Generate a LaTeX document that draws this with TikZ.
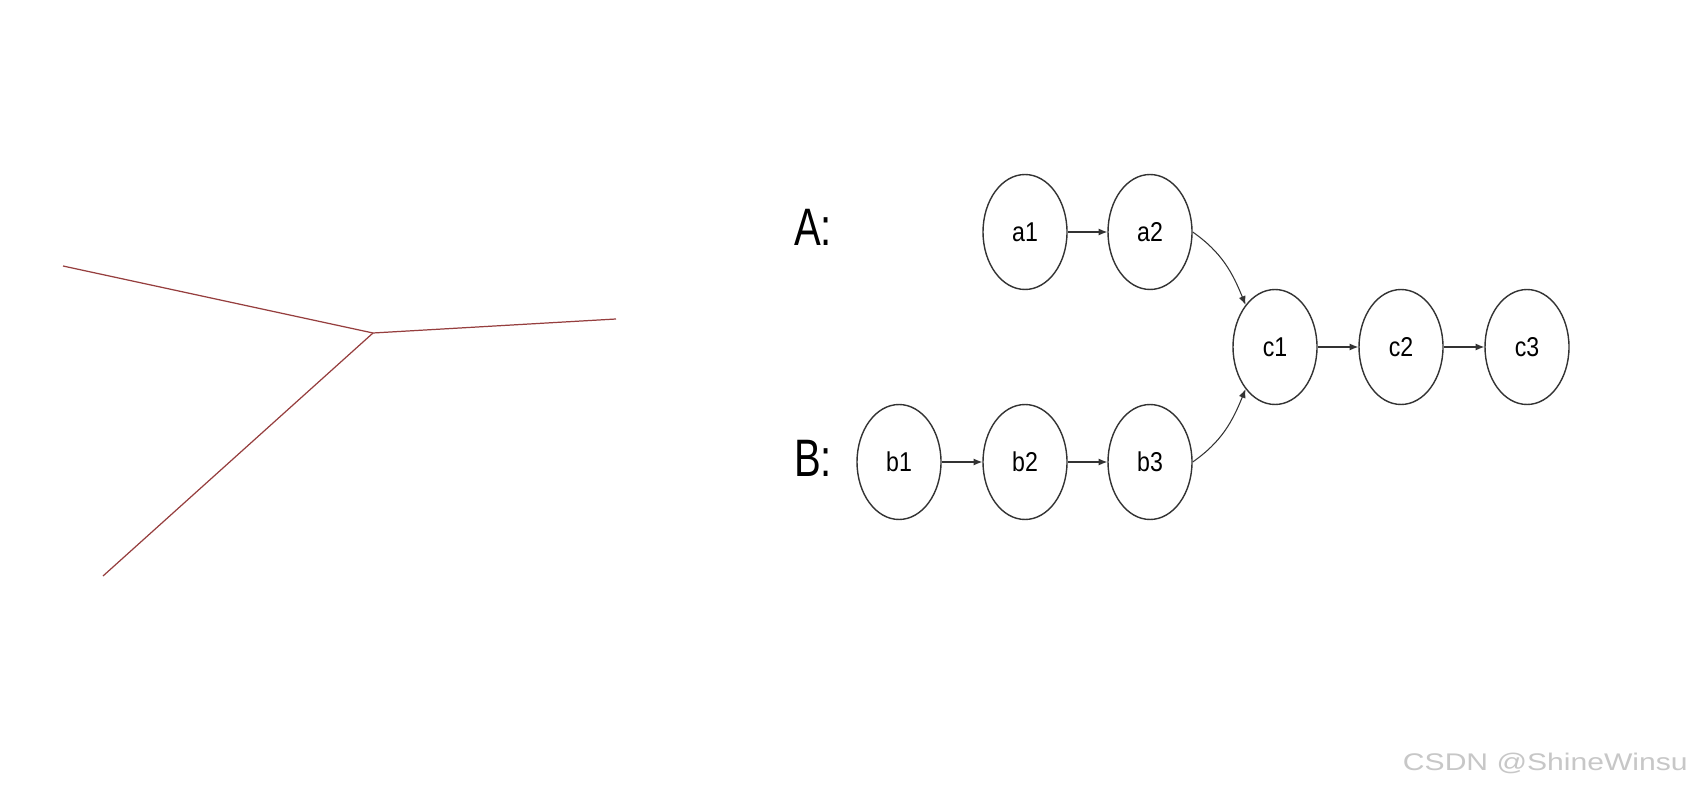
\documentclass[tikz,border=0pt]{standalone}
\usepackage{fontspec}
\setmainfont{Liberation Sans}
\newfontfamily\nodefont[FakeStretch=0.85]{Liberation Sans}
\newfontfamily\seqfont[FakeStretch=0.76]{Liberation Sans}
\newfontfamily\markfont[FakeStretch=1.25]{Liberation Sans}
\usetikzlibrary{shapes.geometric,arrows.meta}
\definecolor{edgered}{RGB}{150,62,62}
\begin{document}
\begin{tikzpicture}[
    x=0.02cm,y=0.02cm,
    every node/.style={font=\nodefont},
    state/.style={ellipse, draw=black!80, line width=0.8pt, minimum width=1.68cm, minimum height=2.3cm, inner sep=0pt, font=\nodefont\fontsize{15.5}{18}\selectfont},
    link/.style={draw=black!80, line width=0.6pt, -{Latex[length=5pt,width=4pt]}},
    seqlabel/.style={font=\seqfont\fontsize{30}{34}\selectfont},
    edgeline/.style={draw=edgered, line width=0.7pt}
]
    \fill[white] (0,0) rectangle (1696,795);
    \useasboundingbox (0,0) rectangle (1696,795);

    % tree on the left
    \coordinate (joint) at (373,462);
    \coordinate (left) at (63,529);
    \coordinate (right) at (616,476);
    \coordinate (down) at (103,219);
    \draw[edgeline] (left) -- (joint) -- (right);
    \draw[edgeline] (joint) -- (down);

    % sequences
    \node[seqlabel] (labA) at (813,568) {A:};
    \node[seqlabel] (labB) at (813,337) {B:};

    \foreach \x/\lab in {1025/a1,1150/a2} {
        \node[state] (\lab) at (\x,563) {\lab};
    }
    \foreach \x/\lab in {899/b1,1025/b2,1150/b3} {
        \node[state] (\lab) at (\x,333) {\lab};
    }
    \foreach \x/\lab in {1275/c1,1401/c2,1527/c3} {
        \node[state] (\lab) at (\x,448) {\lab};
    }

    \draw[link] (a1) -- (a2);
    \draw[link] (b1) -- (b2);
    \draw[link] (b2) -- (b3);
    \draw[link] (c1) -- (c2);
    \draw[link] (c2) -- (c3);
    \draw[link] (a2.east) to[out=-35,in=112] (c1.125);
    \draw[link] (b3.east) to[out=35,in=-112] (c1.235);

    \node[font=\markfont\fontsize{13.7}{16}\selectfont, text=black!22, anchor=base east, inner sep=0pt] (mark) at (1688,25) {CSDN @ShineWinsu};
\end{tikzpicture}
\end{document}
